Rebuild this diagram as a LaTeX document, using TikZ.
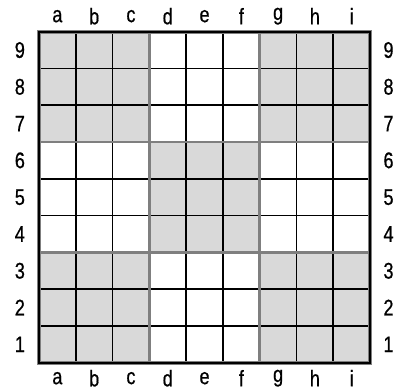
\documentclass[tikz,border=0pt]{standalone}
\usepackage{fontspec}
\setmainfont[FakeStretch=0.8,FakeBold=0.6]{Liberation Sans}
\usepackage{tikz}

\definecolor{cellgray}{HTML}{D9D9D9}
\definecolor{boxline}{HTML}{7F7F7F}

\begin{document}
\begin{tikzpicture}[scale=1.0, every node/.style={font=\fontsize{17.5}{20}\selectfont}]
    \useasboundingbox (-1.06,-0.79) rectangle (10.03,9.86);

    % shaded boxes
    \fill[cellgray] (0,0) rectangle (3,3);
    \fill[cellgray] (6,0) rectangle (9,3);
    \fill[cellgray] (3,3) rectangle (6,6);
    \fill[cellgray] (0,6) rectangle (3,9);
    \fill[cellgray] (6,6) rectangle (9,9);

    % cell lines
    \foreach \k in {1,2,4,5,7,8} {
        \draw[line width=1.3pt] (\k,0) -- (\k,9);
        \draw[line width=1.3pt] (0,\k) -- (9,\k);
    }

    % box lines
    \foreach \k in {3,6} {
        \draw[boxline, line width=2.3pt] (\k,0) -- (\k,9);
        \draw[boxline, line width=2.3pt] (0,\k) -- (9,\k);
    }

    % border
    \draw[boxline, line width=3pt] (0,0) rectangle (9,9);
    \draw[line width=1.5pt] (0,0) rectangle (9,9);

    % file labels
    \foreach \f [count=\i from 0] in {a,b,c,d,e,f,g,h,i} {
        \node (top\f) at (\i+0.5,9.42) {\f};
        \node (bot\f) at (\i+0.5,-0.42) {\f};
    }

    % rank labels
    \foreach \r in {1,...,9} {
        \node (left\r) at (-0.52,\r-0.5) {\r};
        \node (right\r) at (9.5,\r-0.5) {\r};
    }
\end{tikzpicture}
\end{document}
